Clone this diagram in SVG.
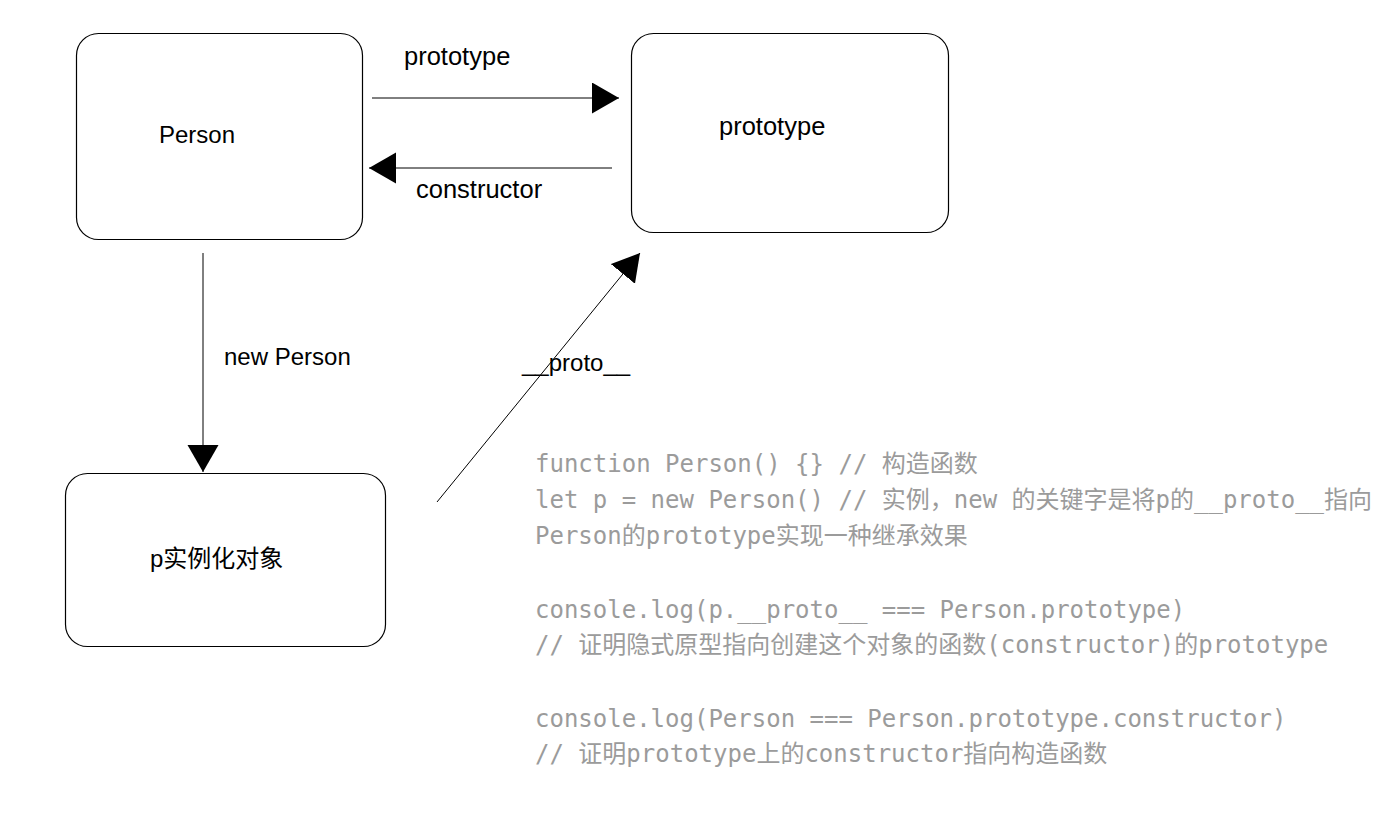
<svg xmlns="http://www.w3.org/2000/svg" width="1374" height="838" viewBox="0 0 1374 838">
<style>
.box{fill:#fff;stroke:#000;stroke-width:1.2}
.lbl{font-family:"Liberation Sans","Noto Sans CJK SC",sans-serif;font-size:24px;fill:#000}
.wide{font-size:25.5px}
.code{font-family:"DejaVu Sans Mono","Noto Sans CJK SC",monospace;font-size:24px;fill:#9b9b9b}
.conn{stroke:#000;stroke-width:1;fill:none;marker-end:url(#ah)}
</style>
<defs>
<marker id="ah" markerUnits="userSpaceOnUse" markerWidth="28" markerHeight="32" refX="27" refY="15.5" orient="auto">
<path d="M0,0 L27,15.5 L0,31 Z" fill="#000"/>
</marker>
</defs>
<rect width="1374" height="838" fill="#fff"/>
<g id="node-person">
<rect class="box" x="76.5" y="33.5" width="286" height="206" rx="22"/>
<text class="lbl" x="159" y="143">Person</text>
</g>
<g id="node-prototype">
<rect class="box" x="631.5" y="33.5" width="317" height="199" rx="22"/>
<text class="lbl wide" x="719" y="135">prototype</text>
</g>
<g id="node-instance">
<rect class="box" x="65.5" y="473.5" width="320" height="173" rx="22"/>
<text class="lbl" x="150" y="567">p实例化对象</text>
</g>
<g id="connectors">
<path class="conn" d="M372 98 L619 98"/>
<text class="lbl wide" x="404" y="65">prototype</text>
<path class="conn" d="M612 168 L369 168"/>
<text class="lbl wide" x="416" y="198">constructor</text>
<path class="conn" d="M203 253 L203 472"/>
<text class="lbl" x="224" y="365" font-size="24.5">new Person</text>
<path class="conn" d="M437 502 L640 253"/>
<text class="lbl" x="522" y="371">__proto__</text>
</g>
<g id="code">
<text class="code" x="535" y="472">function Person() {} // 构造函数</text>
<text class="code" x="535" y="508">let p = new Person() // 实例，new 的关键字是将p的__proto__指向</text>
<text class="code" x="535" y="544">Person的prototype实现一种继承效果</text>
<text class="code" x="535" y="618">console.log(p.__proto__ === Person.prototype)</text>
<text class="code" x="535" y="653">// 证明隐式原型指向创建这个对象的函数(constructor)的prototype</text>
<text class="code" x="535" y="727">console.log(Person === Person.prototype.constructor)</text>
<text class="code" x="535" y="762">// 证明prototype上的constructor指向构造函数</text>
</g>
</svg>
